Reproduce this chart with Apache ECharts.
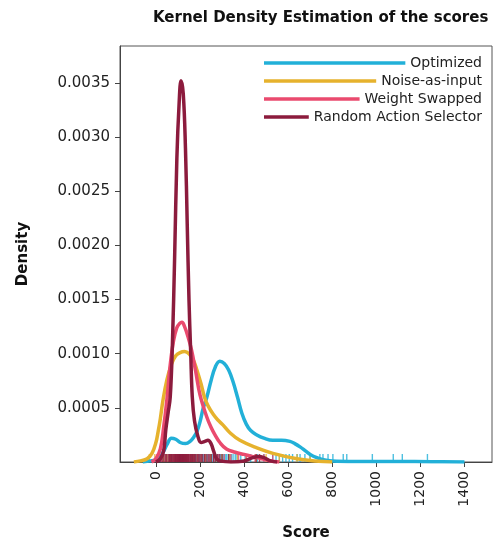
<!DOCTYPE html>
<html>
<head>
<meta charset="utf-8">
<script src="https://cdn.jsdelivr.net/npm/echarts@6/dist/echarts.min.js"></script>
<style>
  html, body { margin: 0; padding: 0; background: #fff; }
  #chart { width: 494px; height: 542px; }
</style>
</head>
<body>
<div id="chart"></div>
<script>
// series names, legend order
const names = ["Optimized", "Noise-as-input", "Weight Swapped", "Random Action Selector"];
const colors = ["#22b0d8", "#e6b22d", "#ea4a6e", "#8c1b3d"];

// KDE curves: [score, density]
const optimizedKde = [
  [-60, 0], [-30, 0.00001], [0, 0.00002], [20, 0.00005], [35, 0.0001], [50, 0.00016],
  [70, 0.00022], [90, 0.00021], [110, 0.00018], [135, 0.00017], [155, 0.00019],
  [172, 0.00023], [186, 0.00028], [200, 0.00037], [215, 0.0005], [230, 0.00059],
  [250, 0.00075], [270, 0.00088], [290, 0.00093], [310, 0.00091], [330, 0.00085],
  [350, 0.00074], [370, 0.0006], [390, 0.00045], [410, 0.00035], [430, 0.00029],
  [458, 0.00025], [490, 0.00022], [530, 0.0002], [570, 0.0002], [608, 0.00019],
  [630, 0.00017], [654, 0.00014], [680, 0.0001], [700, 0.00007], [730, 0.00004],
  [760, 0.00002], [800, 0.00001], [900, 0.000005], [1100, 0.000004], [1250, 0.000003],
  [1400, 0]
];
const noiseKde = [
  [-100, 0], [-70, 0.00001], [-40, 0.00003], [-18, 0.00008], [0, 0.00018], [10, 0.00028],
  [20, 0.0004], [32, 0.00057], [50, 0.00076], [70, 0.0009], [90, 0.00098], [110, 0.00101],
  [130, 0.00102], [150, 0.001], [170, 0.00094], [186, 0.00085], [205, 0.00072],
  [220, 0.0006], [236, 0.00052], [260, 0.00044], [280, 0.00039], [305, 0.00034],
  [336, 0.00027], [381, 0.0002], [458, 0.00013], [531, 0.00008], [640, 0.00003],
  [720, 0.00001], [800, 0]
];
const swappedKde = [
  [-20, 0], [0, 0.00003], [20, 0.00012], [35, 0.00032], [50, 0.00058], [64, 0.00088],
  [80, 0.00112], [95, 0.00124], [108, 0.00128], [118, 0.00129], [130, 0.00125],
  [145, 0.00116], [162, 0.00103], [180, 0.00084], [200, 0.00062], [230, 0.00042],
  [250, 0.00032], [268, 0.00025], [290, 0.00018], [320, 0.00012], [360, 0.00009],
  [400, 0.00007], [440, 0.00005], [480, 0.00003], [520, 0.00001], [560, 0]
];
const randomKde = [
  [0, 0], [20, 0.00003], [35, 0.0001], [45, 0.0003], [55, 0.00045], [65, 0.0006],
  [75, 0.0011], [85, 0.0019], [95, 0.0028], [105, 0.0033], [114, 0.00352], [124, 0.0034],
  [134, 0.0029], [142, 0.0022], [150, 0.0015], [158, 0.001], [165, 0.0006],
  [175, 0.00038], [190, 0.00024], [205, 0.00018], [222, 0.00019], [236, 0.0002],
  [250, 0.00017], [262, 0.0001], [275, 0.00003], [290, 0.00001], [340, 0],
  [400, 0.00001], [440, 0.00004], [465, 0.00005], [490, 0.00004], [520, 0.00001], [550, 0]
];

// rug marks (individual scores)
const optimizedRug = [20, 72, 164, 172, 180, 188, 195, 203, 210, 218, 225, 232, 240, 248,
  255, 262, 270, 276, 282, 288, 295, 302, 308, 314, 320, 328, 335, 342, 350, 360, 368,
  385, 405, 430, 460, 490, 530, 545, 560, 575, 590, 605, 620, 641, 654,
  676, 699, 744, 758, 781, 803, 850, 866, 982, 1077, 1118, 1232];
const noiseRug = [-30, -5, 15, 35, 50, 65, 80, 95, 108, 120, 132, 145, 158, 172, 188, 205,
  225, 248, 272, 300, 335, 370, 410, 455, 500, 560, 640, 700];
const swappedRug = [5, 25, 45, 60, 72, 82, 92, 100, 108, 115, 122, 130, 138, 146, 155, 165,
  176, 190, 205, 222, 240, 262, 285, 310, 340, 375, 410, 450, 490, 530];
const randomRug = [15, 22, 30, 36, 42, 48, 55, 60, 63, 67, 70, 74, 78, 82, 85, 88, 90, 93,
  96, 98, 100, 102, 104, 106, 108, 110, 112, 114, 116, 118, 120, 122, 124, 126, 128, 131,
  133, 136, 138, 141, 144, 147, 150, 154, 158, 162, 166, 170, 175, 180, 186, 192, 198,
  205, 212, 220, 228, 236, 245, 252, 262, 270, 280, 290, 300, 330, 455, 470];

const xTicks = [0, 200, 400, 600, 800, 1000, 1200, 1400];
const yTicks = [0.0005, 0.001, 0.0015, 0.002, 0.0025, 0.003, 0.0035];

const kdes = [optimizedKde, noiseKde, swappedKde, randomKde];
const rugs = [optimizedRug, noiseRug, swappedRug, randomRug];

const fontFamily = "DejaVu Sans";
const legendFont = 14;

// legend lines all start at the same x, text right aligned
const ctx = document.createElement("canvas").getContext("2d");
ctx.font = legendFont + "px '" + fontFamily + "'";
const legendTops = [56, 74, 92, 110];
const legendRight = 12, lineStart = 264;
const legends = names.map((n, i) => {
  const w = ctx.measureText(n).width;
  return {
    data: [n],
    right: legendRight,
    top: legendTops[i],
    padding: 0,
    icon: "rect",
    itemHeight: 3.5,
    itemWidth: 494 - legendRight - w - 5 - lineStart,
    selectedMode: false,
    textStyle: { fontFamily: fontFamily, fontSize: legendFont, color: "#222" }
  };
});

let series = [];
rugs.forEach((r, i) => {
  series.push({
    name: names[i] + " rug",
    type: "scatter",
    data: r.map(v => [v, 0]),
    symbol: "rect",
    symbolSize: [1.4, 8],
    symbolOffset: [0, -4],
    itemStyle: { color: colors[i] },
    silent: true,
    z: 1
  });
});
kdes.forEach((d, i) => {
  series.push({
    name: names[i],
    type: "line",
    data: d,
    smooth: 0.4,
    symbol: "none",
    lineStyle: { width: 3.5, color: colors[i] },
    itemStyle: { color: colors[i] },
    silent: true,
    z: 2
  });
});

const chart = echarts.init(document.getElementById("chart"));
chart.setOption({
  animation: false,
  textStyle: { fontFamily: fontFamily },
  title: {
    text: "Kernel Density Estimation of the scores",
    left: 153,
    top: 11,
    padding: 0,
    textStyle: { fontFamily: fontFamily, fontSize: 15, fontWeight: "bold", color: "#111" }
  },
  legend: legends,
  grid: {
    left: 120, right: 2, top: 46, bottom: 80,
    outerBoundsMode: "none",
    show: true, borderColor: "#555", borderWidth: 1
  },
  xAxis: {
    type: "value",
    min: -163,
    max: 1525,
    name: "Score",
    nameLocation: "middle",
    nameGap: 64,
    nameTextStyle: { fontSize: 15, fontWeight: "bold", color: "#111" },
    axisLine: { show: true, onZero: false, lineStyle: { color: "#444" } },
    axisTick: { show: true, length: 5, customValues: xTicks, lineStyle: { color: "#444" } },
    axisLabel: {
      customValues: xTicks, rotate: 90, margin: 9, fontSize: 14, color: "#222",
      formatter: v => String(v)
    },
    splitLine: { show: false }
  },
  yAxis: {
    type: "value",
    min: 0,
    max: 0.00384,
    name: "Density",
    nameLocation: "middle",
    nameGap: 89,
    nameTextStyle: { fontSize: 15, fontWeight: "bold", color: "#111" },
    axisLine: { show: true, onZero: false, lineStyle: { color: "#444" } },
    axisTick: { show: true, length: 5, customValues: yTicks, lineStyle: { color: "#444" } },
    axisLabel: {
      customValues: yTicks, margin: 10, fontSize: 15, color: "#222",
      formatter: v => v.toFixed(4)
    },
    splitLine: { show: false }
  },
  series: series
});
</script>
</body>
</html>
